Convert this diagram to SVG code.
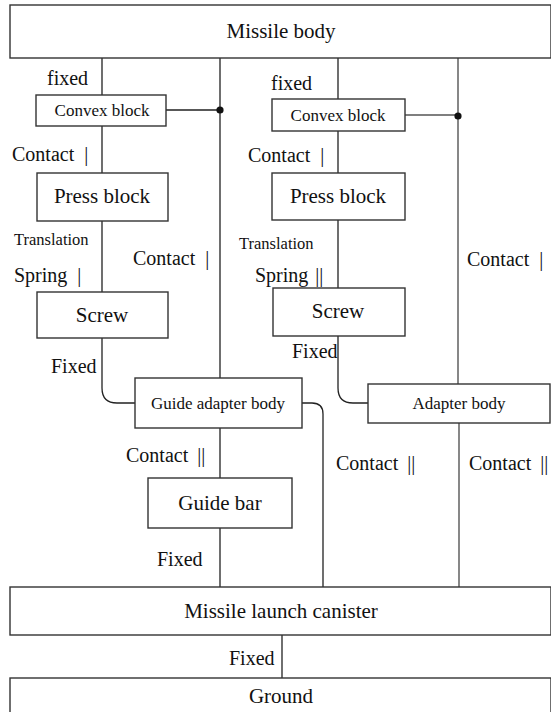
<svg xmlns="http://www.w3.org/2000/svg" width="551" height="712" viewBox="0 0 551 712">
<style>
.box{fill:#fff;stroke:#333;stroke-width:1.4}
.ln{fill:none;stroke:#222;stroke-width:1.3}
.lg{fill:none;stroke:#555;stroke-width:1.4}
text{font-family:"Liberation Serif","Times New Roman",serif;fill:#111}
.t{font-size:21px;text-anchor:middle}
.s{font-size:17px;text-anchor:middle}
.l{font-size:20px}
.ls{font-size:16.5px}
</style>
<rect width="551" height="712" fill="#fff"/>
<g id="connectors">
<path class="ln" d="M102 58V95M102 126V173M102 221V292M102 338V388Q102 403 117 403H135"/>
<path class="ln" d="M220 58V378M166 110H220"/>
<circle cx="220" cy="110" r="3.6" fill="#111"/>
<path class="ln" d="M338 58V99M338 131V173M338 220V288M338 336V388Q338 403 353 403H368"/>
<path class="lg" d="M458 58V384M405 115H458"/>
<circle cx="458" cy="116" r="3.6" fill="#111"/>
<path class="ln" d="M302 403H312Q323 403 323 414V587"/>
<path class="ln" d="M220 428V478M220 528V587"/>
<path class="lg" d="M459 423V587"/>
<path class="ln" d="M282 635V678"/>
</g>
<g id="missile-body"><rect class="box" x="10" y="5" width="541" height="53"/><text class="t" x="281" y="38">Missile body</text></g>
<g id="convex-block-1"><rect class="box" x="36" y="95" width="130" height="31"/><text class="s" x="102" y="116">Convex block</text></g>
<g id="convex-block-2"><rect class="box" x="272" y="99" width="133" height="32"/><text class="s" x="338" y="121">Convex block</text></g>
<g id="press-block-1"><rect class="box" x="37" y="173" width="131" height="48"/><text class="t" x="102" y="203">Press block</text></g>
<g id="press-block-2"><rect class="box" x="272" y="173" width="133" height="47"/><text class="t" x="338" y="203">Press block</text></g>
<g id="screw-1"><rect class="box" x="37" y="292" width="131" height="46"/><text class="t" x="102" y="322">Screw</text></g>
<g id="screw-2"><rect class="box" x="273" y="288" width="132" height="48"/><text class="t" x="338" y="318">Screw</text></g>
<g id="guide-adapter-body"><rect class="box" x="135" y="378" width="167" height="50"/><text class="s" x="218" y="409">Guide adapter body</text></g>
<g id="adapter-body"><rect class="box" x="368" y="384" width="182" height="39"/><text class="s" x="459" y="409">Adapter body</text></g>
<g id="guide-bar"><rect class="box" x="148" y="478" width="144" height="50"/><text class="t" x="220" y="510">Guide bar</text></g>
<g id="missile-launch-canister"><rect class="box" x="10" y="587" width="541" height="48"/><text class="t" x="281" y="618">Missile launch canister</text></g>
<g id="ground"><rect class="box" x="10" y="678" width="541" height="40"/><text class="t" x="281" y="703">Ground</text></g>
<g id="labels">
<text class="l" x="47" y="85">fixed</text>
<text class="l" x="271" y="90">fixed</text>
<text class="l" x="12" y="161">Contact <tspan dx="5">|</tspan></text>
<text class="l" x="248" y="162">Contact <tspan dx="5">|</tspan></text>
<text class="ls" x="14" y="245">Translation</text>
<text class="ls" x="239" y="249">Translation</text>
<text class="l" x="133" y="265">Contact <tspan dx="5">|</tspan></text>
<text class="l" x="467" y="266">Contact <tspan dx="5">|</tspan></text>
<text class="l" x="14" y="282">Spring <tspan dx="5">|</tspan></text>
<text class="l" x="255" y="282">Spring <tspan dx="2">||</tspan></text>
<text class="l" x="51" y="373">Fixed</text>
<text class="l" x="292" y="358">Fixed</text>
<text class="l" x="126" y="462">Contact <tspan dx="4">||</tspan></text>
<text class="l" x="336" y="470">Contact <tspan dx="4">||</tspan></text>
<text class="l" x="469" y="470">Contact <tspan dx="4">||</tspan></text>
<text class="l" x="157" y="566">Fixed</text>
<text class="l" x="229" y="665">Fixed</text>
</g>
</svg>
